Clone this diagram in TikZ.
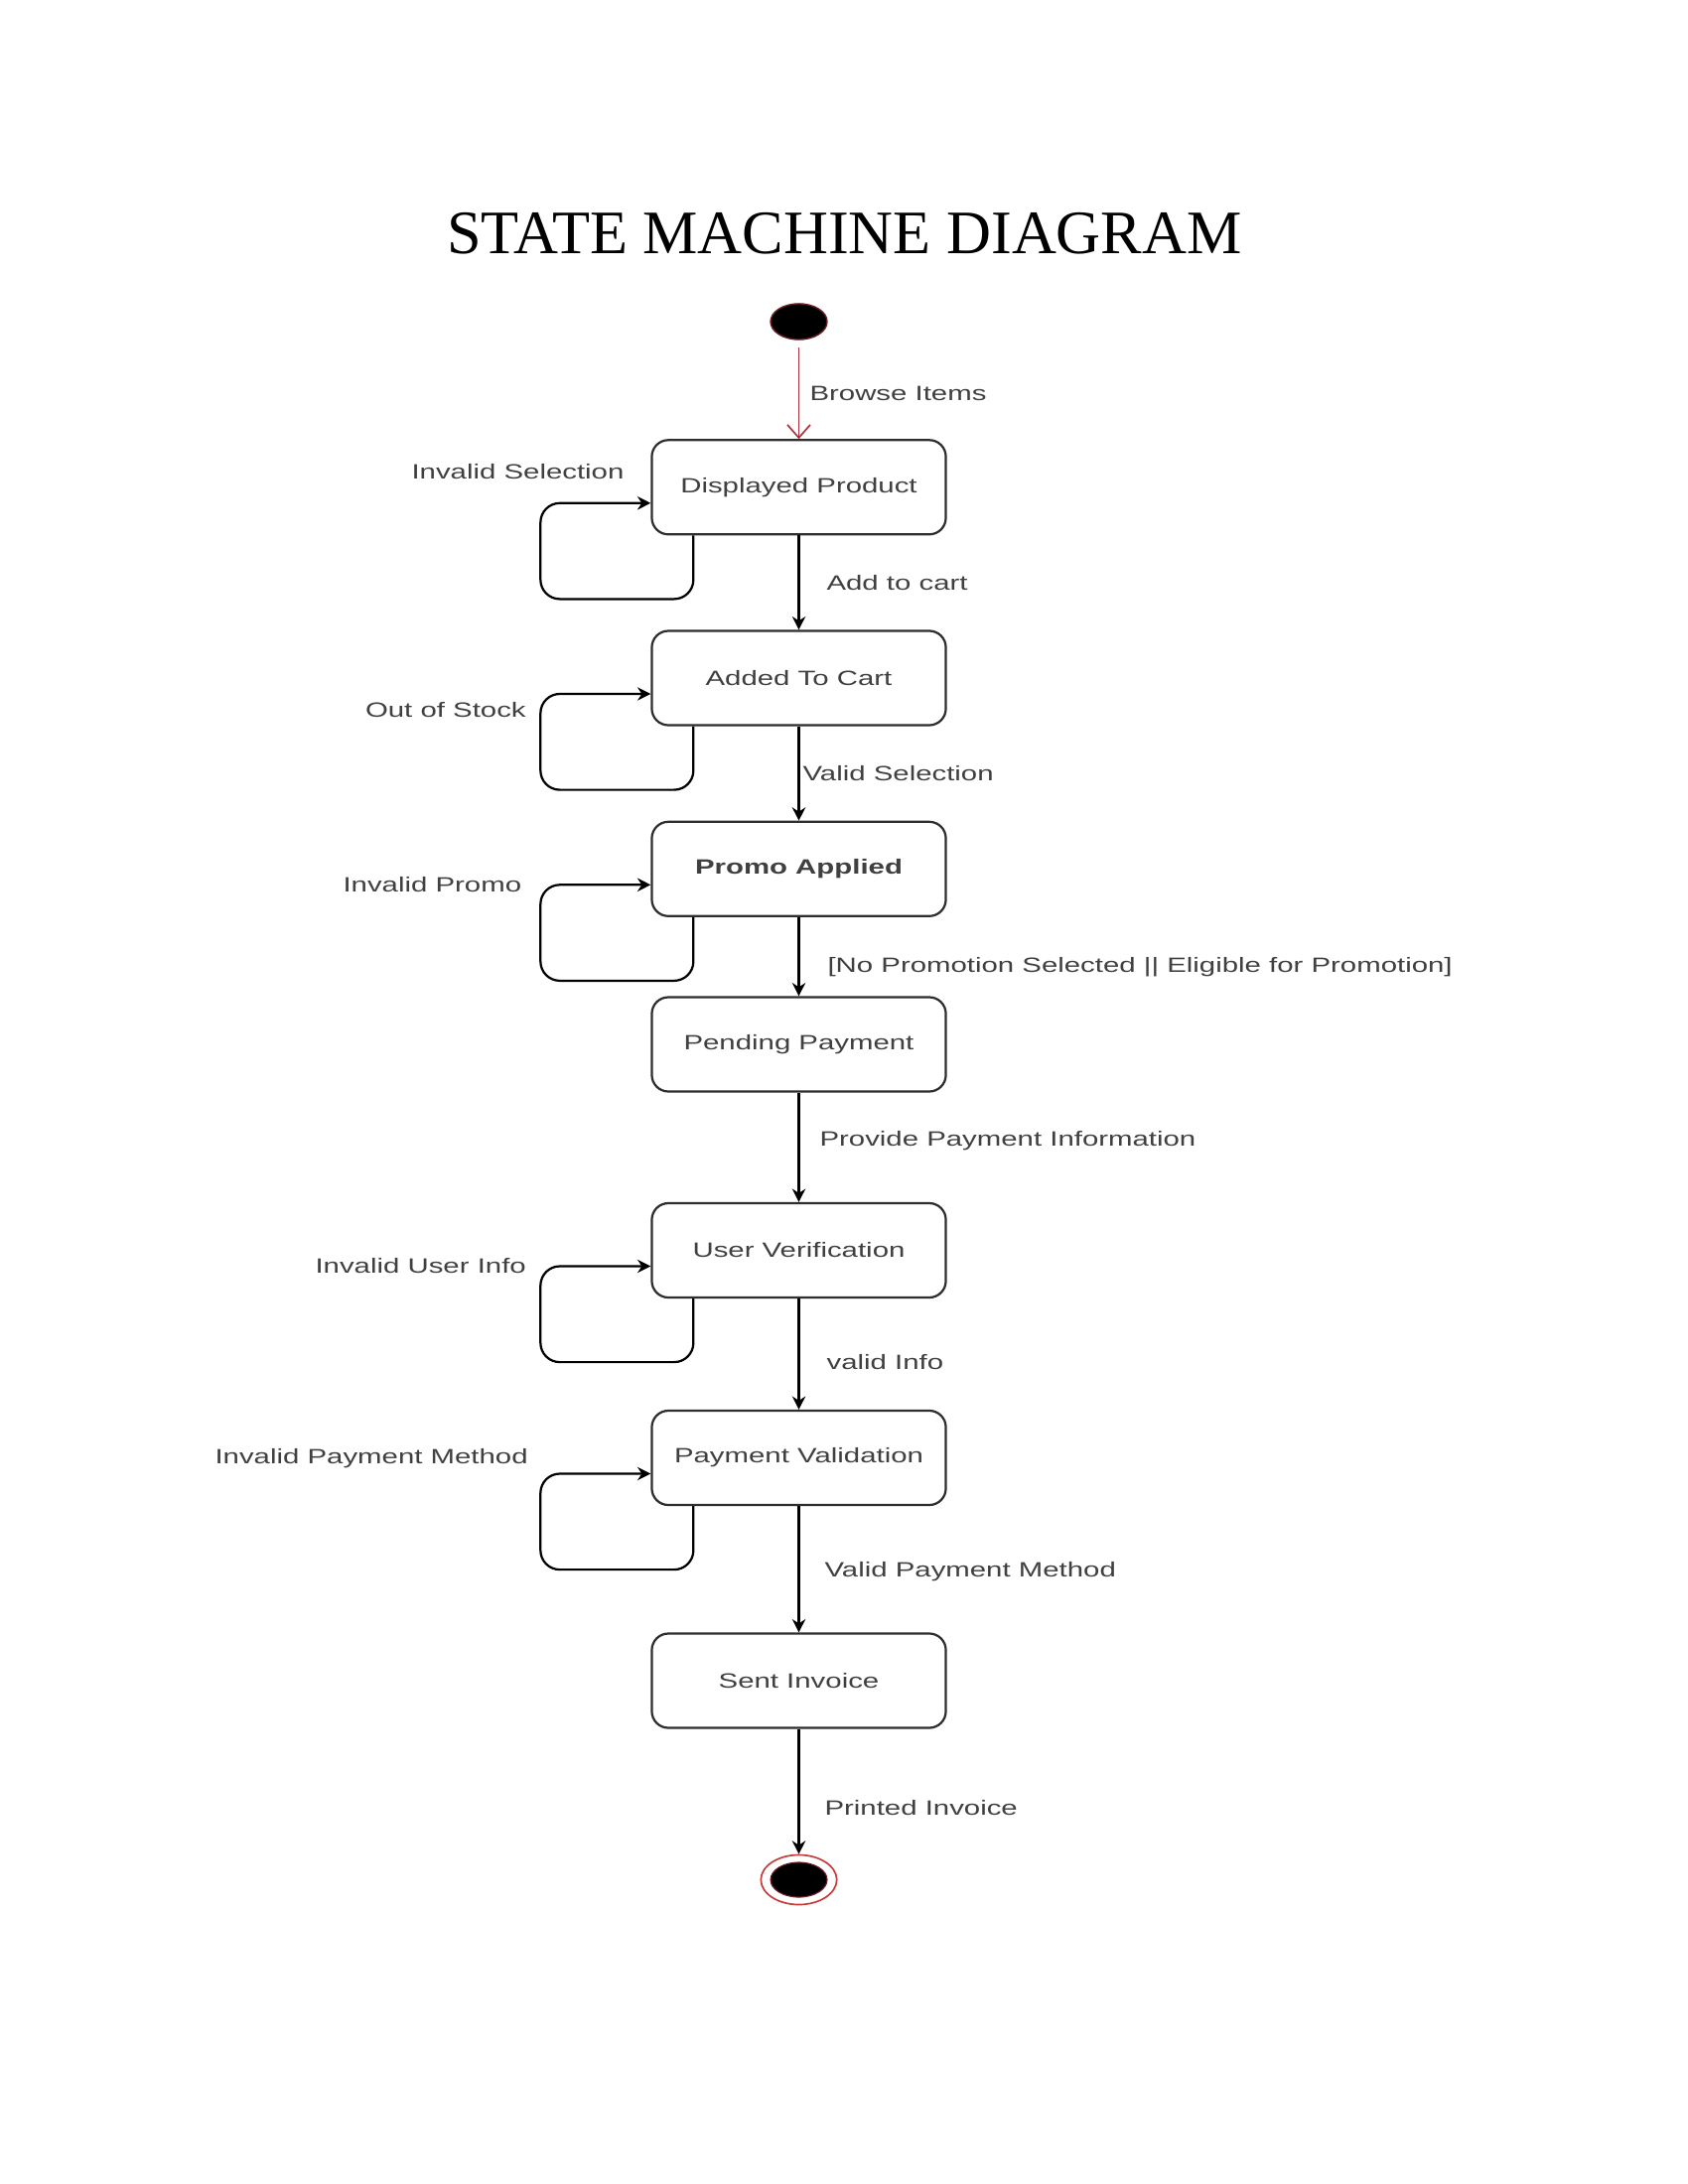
\documentclass[tikz,border=0pt]{standalone}
\usepackage{fontspec}
\setmainfont{Liberation Sans}
\newfontfamily\titlefont{Liberation Serif}
\usepackage{graphicx}
\usetikzlibrary{arrows.meta,shapes.geometric,calc}
\definecolor{ink}{gray}{0.18}
\definecolor{txt}{gray}{0.25}
\definecolor{startred}{RGB}{176,48,62}
\definecolor{endred}{RGB}{200,60,60}
% labels in this chart are set wide
\newcommand\wx[1]{\scalebox{1.41}[1]{#1}}

\begin{document}
\begin{tikzpicture}[x=0.36pt,y=-0.36pt,
  state/.style={draw=ink, line width=0.8pt, rounded corners=6pt,
    minimum width=106.6pt, minimum height=34.2pt, inner sep=0pt,
    text=txt, font=\fontsize{7.5}{9}\selectfont},
  lbl/.style={anchor=west, inner sep=0pt, text height=5.4pt, text depth=0pt,
    text=txt, font=\fontsize{7.5}{9}\selectfont},
  tr/.style={draw=black, line width=0.8pt, -{Stealth[length=4.8pt,width=4.8pt]}},
  loopedge/.style={tr, rounded corners=7pt}]
\useasboundingbox[fill=white] (0,0) rectangle (1700,2200);

% title
\node[anchor=base, inner sep=0pt, font=\titlefont\fontsize{22.4}{26}\selectfont] (title) at (850.5,256) {STATE MACHINE DIAGRAM};

% pseudo states
\node[ellipse, fill=black, draw=startred!60!black, line width=0.5pt,
  minimum width=20.5pt, minimum height=13pt, inner sep=0pt] (ini) at (804.5,324) {};
\node[ellipse, fill=white, draw=endred, line width=0.6pt,
  minimum width=27.5pt, minimum height=18pt, inner sep=0pt] (fin) at (804.5,1893.5) {};
\node[ellipse, fill=black, draw=startred!60!black, line width=0.4pt,
  minimum width=20.5pt, minimum height=12.6pt, inner sep=0pt] (finin) at (fin.center) {};

% states
\node[state] (b1) at (804.5,490.8)  {\wx{Displayed Product}};
\node[state] (b2) at (804.5,683)    {\wx{Added To Cart}};
\node[state] (b3) at (804.5,875.3)  {\wx{\bfseries Promo Applied}};
\node[state] (b4) at (804.5,1052)   {\wx{Pending Payment}};
\node[state] (b5) at (804.5,1259.5) {\wx{User Verification}};
\node[state] (b6) at (804.5,1468.5) {\wx{Payment Validation}};
\node[state] (b7) at (804.5,1693)   {\wx{Sent Invoice}};

% transitions
\draw[startred, line width=0.6pt, shorten <=2.5pt,
  -{Straight Barb[length=4.7pt,width=8.3pt]}] (ini) -- (b1);
\draw[tr] (b1) -- (b2);
\draw[tr] (b2) -- (b3);
\draw[tr] (b3) -- (b4);
\draw[tr] (b4) -- (b5);
\draw[tr] (b5) -- (b6);
\draw[tr] (b6) -- (b7);
\draw[tr] (b7) -- (fin);

% self transitions
\foreach \s in {b1,b2,b3,b5,b6}{
  \draw[loopedge] ($(\s.south west)+(43,0)$) -- ++(0,64)
    -| ($(\s.west)+(-111,16)$) -- ($(\s.west)+(0,16)$);
}

% transition labels
\node[lbl] (l1)  at (815,396)  {\wx{Browse Items}};
\node[lbl] (l2)  at (414,475)  {\wx{Invalid Selection}};
\node[lbl] (l3)  at (832,587)  {\wx{Add to cart}};
\node[lbl] (l4)  at (367.5,715) {\wx{Out of Stock}};
\node[lbl] (l5)  at (808,779)  {\wx{Valid Selection}};
\node[lbl] (l6)  at (345,891)  {\wx{Invalid Promo}};
\node[lbl] (l7)  at (833,972)  {\wx{[No Promotion Selected || Eligible for Promotion]}};
\node[lbl] (l8)  at (825,1147) {\wx{Provide Payment Information}};
\node[lbl] (l9)  at (317,1275) {\wx{Invalid User Info}};
\node[lbl] (l10) at (832,1372) {\wx{valid Info}};
\node[lbl] (l11) at (216,1467) {\wx{Invalid Payment Method}};
\node[lbl] (l12) at (830,1581) {\wx{Valid Payment Method}};
\node[lbl] (l13) at (830,1821) {\wx{Printed Invoice}};
\end{tikzpicture}
\end{document}
